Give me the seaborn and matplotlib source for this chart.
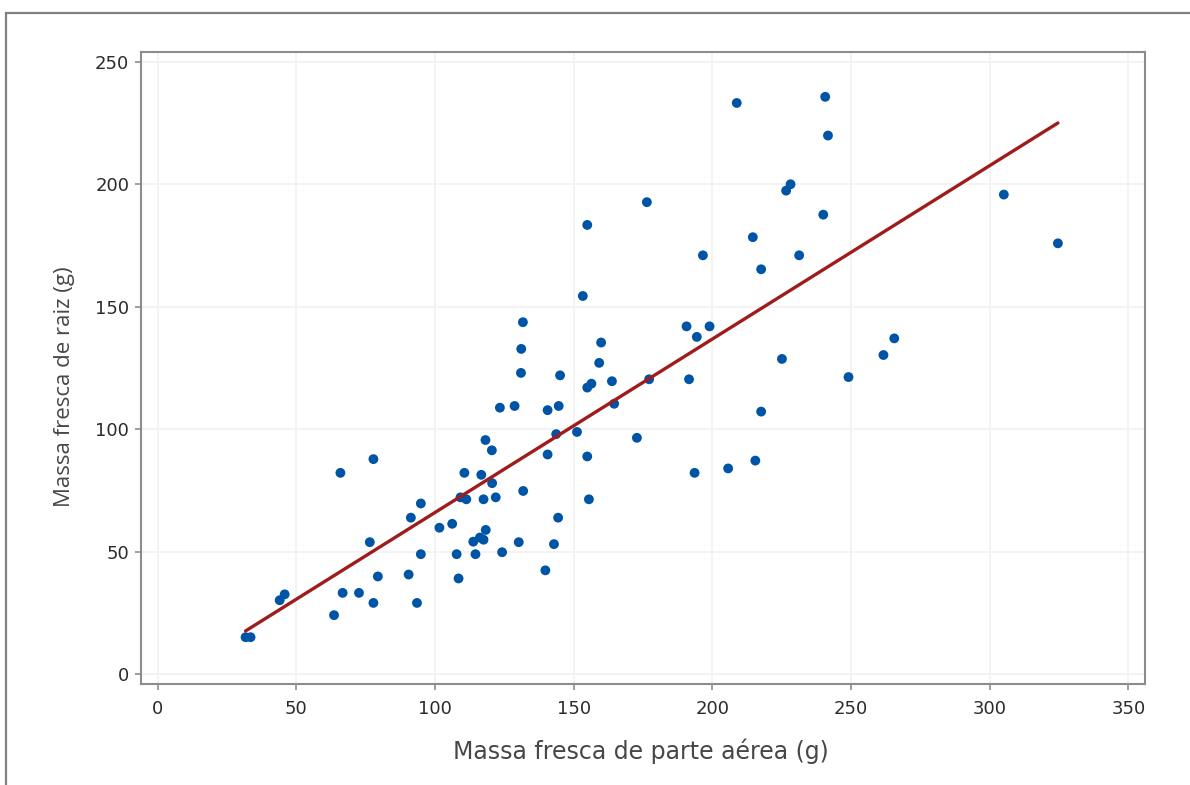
import matplotlib
matplotlib.use("Agg")
import matplotlib.pyplot as plt
import seaborn as sns
import pandas as pd
from matplotlib.patches import Rectangle

# Massa fresca de parte aérea (g)
parte_aerea = [
    31.7, 33.5, 44.0, 45.8, 63.6, 65.9, 66.7, 72.6, 76.5, 77.8,
    77.8, 79.4, 90.5, 91.3, 93.5, 94.9, 94.9, 101.6, 106.2, 107.8,
    108.5, 110.6, 109.2, 111.3, 113.8, 116.2, 117.5, 114.6, 116.7, 117.5,
    118.2, 118.3, 120.5, 120.6, 121.9, 123.4, 124.2, 128.7, 130.2, 131.0,
    131.1, 131.7, 131.8, 139.8, 140.6, 140.6, 142.9, 143.7, 144.4, 144.6,
    145.1, 151.2, 153.3, 154.9, 154.9, 156.4, 154.9, 155.5, 159.2, 159.9,
    163.8, 164.6, 172.8, 176.4, 177.2, 190.7, 191.6, 193.6, 194.4, 196.6,
    199.0, 205.7, 208.8, 214.6, 215.5, 217.6, 217.6, 225.1, 226.6, 228.2,
    231.3, 240.0, 240.7, 241.7, 249.1, 261.7, 265.6, 305.1, 324.6,
]
# Massa fresca de raiz (g)
raiz = [
    15.1, 15.1, 30.2, 32.6, 24.1, 82.2, 33.2, 33.2, 53.9, 87.8,
    29.1, 39.9, 40.7, 63.9, 29.1, 69.7, 49.0, 59.8, 61.4, 49.0,
    39.1, 82.2, 72.2, 71.4, 54.1, 55.8, 54.9, 49.0, 81.4, 71.4,
    95.6, 58.9, 91.4, 78.0, 72.2, 108.8, 49.8, 109.5, 53.9, 123.0,
    132.8, 143.7, 74.8, 42.4, 107.8, 89.7, 53.1, 98.0, 63.9, 109.5,
    122.0, 98.9, 154.4, 183.4, 117.0, 118.6, 88.9, 71.4, 127.1, 135.4,
    119.6, 110.4, 96.5, 192.7, 120.4, 142.0, 120.4, 82.2, 137.7, 171.0,
    142.0, 84.0, 233.2, 178.4, 87.2, 165.3, 107.2, 128.7, 197.4, 200.0,
    171.0, 187.6, 235.7, 219.9, 121.3, 130.3, 137.1, 195.8, 175.9,
]

x_ticks = [0, 50, 100, 150, 200, 250, 300, 350]
y_ticks = [0, 50, 100, 150, 200, 250]
x_label = "Massa fresca de parte aérea (g)"
y_label = "Massa fresca de raiz (g)"

df = pd.DataFrame({"parte_aerea": parte_aerea, "raiz": raiz})

sns.set_theme(style="whitegrid")
plt.rcParams["font.family"] = ["DejaVu Sans"]

fig = plt.figure(figsize=(11.9, 7.85), dpi=100)
ax = fig.add_axes([141 / 1190, 1 - 684 / 785, (1145 - 141) / 1190, (684 - 52) / 785])

sns.scatterplot(data=df, x="parte_aerea", y="raiz", ax=ax, color="#0054a6",
                s=50, edgecolor="none", linewidth=0, zorder=3)
sns.regplot(data=df, x="parte_aerea", y="raiz", ax=ax, scatter=False, ci=None,
            truncate=True, line_kws={"color": "#a01c1c", "linewidth": 2.4, "zorder": 4})

ax.set_xlim(-6, 356)
ax.set_ylim(-4, 254)
ax.set_xticks(x_ticks)
ax.set_yticks(y_ticks)
ax.set_xticklabels([str(v) for v in x_ticks])
ax.set_yticklabels([str(v) for v in y_ticks])

ax.set_facecolor("white")
ax.grid(True, color="#f3f3f3", linewidth=1.4)
for sp in ax.spines.values():
    sp.set_visible(True)
    sp.set_color("#8c8c8c")
    sp.set_linewidth(1.5)

ax.tick_params(axis="both", which="major", direction="out", length=4.5, width=1.2,
               color="#8c8c8c", labelsize=13, labelcolor="#2b2b2b",
               bottom=True, left=True)
ax.tick_params(axis="x", pad=7)
ax.tick_params(axis="y", pad=4)

ax.set_xlabel(x_label, fontsize=17, color="#474747")
ax.set_ylabel(y_label, fontsize=16, color="#474747", family=["Open Sans", "DejaVu Sans"])
ax.xaxis.set_label_coords(0.498, -0.086)
ax.yaxis.set_label_coords(-0.066, 0.47)

# outer frame of the original image
fig.patches.append(Rectangle((6 / 1190, -0.1), 1.2, 1 - 13 / 785 + 0.1,
                             transform=fig.transFigure, fill=False,
                             edgecolor="#808080", linewidth=1.6, zorder=0))

fig.savefig("out.png", dpi=100, facecolor="white")
